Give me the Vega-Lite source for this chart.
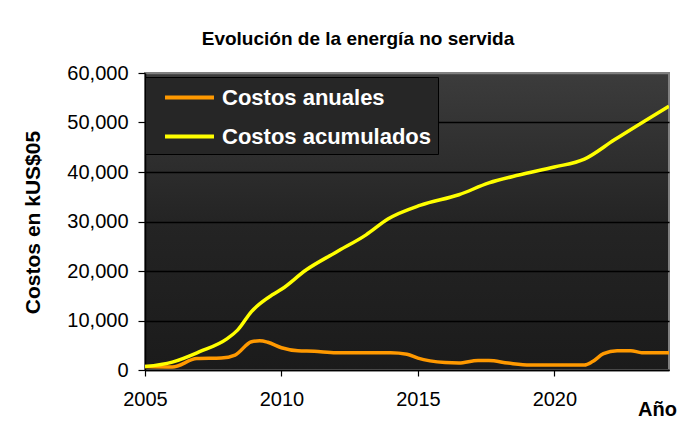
{
  "$schema": "https://vega.github.io/schema/vega-lite/v6.json",
  "width": 524,
  "height": 297,
  "autosize": {"type": "none"},
  "padding": {"left": 145, "top": 73, "right": 28, "bottom": 73},
  "background": "white",
  "title": {
    "text": "Evolución de la energía no servida",
    "font": "Liberation Sans",
    "fontSize": 19,
    "fontWeight": "bold",
    "color": "#000000",
    "anchor": "middle",
    "dx": -49,
    "baseline": "alphabetic",
    "offset": -1
  },
  "config": {
    "font": "Liberation Sans",
    "view": {
      "stroke": "#808080",
      "strokeWidth": 2,
      "fill": {
        "gradient": "linear",
        "x1": 0, "y1": 0, "x2": 0, "y2": 1,
        "stops": [
          {"offset": 0, "color": "#3c3c3c"},
          {"offset": 0.5, "color": "#242424"},
          {"offset": 1, "color": "#1b1b1b"}
        ]
      }
    },
    "axis": {
      "labelFont": "Liberation Sans",
      "titleFont": "Liberation Sans",
      "labelColor": "#000000",
      "titleColor": "#000000",
      "domainColor": "#000000",
      "domainWidth": 1.5,
      "tickColor": "#000000",
      "tickWidth": 1.2
    }
  },
  "data": {
    "values": [
      {"Año": 2005.0, "Costo": 700, "Serie": "Costos anuales"},
      {"Año": 2006.0, "Costo": 600, "Serie": "Costos anuales"},
      {"Año": 2006.9, "Costo": 2300, "Serie": "Costos anuales"},
      {"Año": 2007.8, "Costo": 2400, "Serie": "Costos anuales"},
      {"Año": 2008.3, "Costo": 3000, "Serie": "Costos anuales"},
      {"Año": 2008.9, "Costo": 5700, "Serie": "Costos anuales"},
      {"Año": 2009.2, "Costo": 5900, "Serie": "Costos anuales"},
      {"Año": 2009.5, "Costo": 5600, "Serie": "Costos anuales"},
      {"Año": 2010.0, "Costo": 4500, "Serie": "Costos anuales"},
      {"Año": 2010.6, "Costo": 3900, "Serie": "Costos anuales"},
      {"Año": 2011.2, "Costo": 3800, "Serie": "Costos anuales"},
      {"Año": 2012.0, "Costo": 3500, "Serie": "Costos anuales"},
      {"Año": 2013.0, "Costo": 3500, "Serie": "Costos anuales"},
      {"Año": 2014.0, "Costo": 3500, "Serie": "Costos anuales"},
      {"Año": 2014.6, "Costo": 3200, "Serie": "Costos anuales"},
      {"Año": 2015.0, "Costo": 2400, "Serie": "Costos anuales"},
      {"Año": 2016.0, "Costo": 1500, "Serie": "Costos anuales"},
      {"Año": 2016.5, "Costo": 1400, "Serie": "Costos anuales"},
      {"Año": 2017.2, "Costo": 1900, "Serie": "Costos anuales"},
      {"Año": 2017.6, "Costo": 1900, "Serie": "Costos anuales"},
      {"Año": 2018.3, "Costo": 1400, "Serie": "Costos anuales"},
      {"Año": 2019.1, "Costo": 1000, "Serie": "Costos anuales"},
      {"Año": 2020.0, "Costo": 1000, "Serie": "Costos anuales"},
      {"Año": 2021.1, "Costo": 1000, "Serie": "Costos anuales"},
      {"Año": 2021.4, "Costo": 1700, "Serie": "Costos anuales"},
      {"Año": 2021.8, "Costo": 3300, "Serie": "Costos anuales"},
      {"Año": 2022.3, "Costo": 3900, "Serie": "Costos anuales"},
      {"Año": 2022.8, "Costo": 3900, "Serie": "Costos anuales"},
      {"Año": 2023.2, "Costo": 3500, "Serie": "Costos anuales"},
      {"Año": 2024.2, "Costo": 3500, "Serie": "Costos anuales"},
      {"Año": 2005.0, "Costo": 700, "Serie": "Costos acumulados"},
      {"Año": 2006.0, "Costo": 1600, "Serie": "Costos acumulados"},
      {"Año": 2007.0, "Costo": 3700, "Serie": "Costos acumulados"},
      {"Año": 2008.0, "Costo": 6300, "Serie": "Costos acumulados"},
      {"Año": 2008.4, "Costo": 8100, "Serie": "Costos acumulados"},
      {"Año": 2008.9, "Costo": 11800, "Serie": "Costos acumulados"},
      {"Año": 2009.7, "Costo": 15300, "Serie": "Costos acumulados"},
      {"Año": 2010.0, "Costo": 16300, "Serie": "Costos acumulados"},
      {"Año": 2010.9, "Costo": 20200, "Serie": "Costos acumulados"},
      {"Año": 2012.0, "Costo": 23800, "Serie": "Costos acumulados"},
      {"Año": 2013.1, "Costo": 27300, "Serie": "Costos acumulados"},
      {"Año": 2013.9, "Costo": 30500, "Serie": "Costos acumulados"},
      {"Año": 2015.1, "Costo": 33300, "Serie": "Costos acumulados"},
      {"Año": 2016.5, "Costo": 35400, "Serie": "Costos acumulados"},
      {"Año": 2017.6, "Costo": 37800, "Serie": "Costos acumulados"},
      {"Año": 2018.7, "Costo": 39400, "Serie": "Costos acumulados"},
      {"Año": 2020.0, "Costo": 41000, "Serie": "Costos acumulados"},
      {"Año": 2021.1, "Costo": 42600, "Serie": "Costos acumulados"},
      {"Año": 2022.2, "Costo": 46500, "Serie": "Costos acumulados"},
      {"Año": 2024.2, "Costo": 53300, "Serie": "Costos acumulados"}
    ]
  },
  "mark": {"type": "line", "strokeWidth": 3.5, "interpolate": "monotone", "clip": true},
  "encoding": {
    "x": {
      "field": "Año",
      "type": "quantitative",
      "scale": {"domain": [2005, 2024.2], "nice": false, "zero": false},
      "axis": {
        "title": "Año",
        "values": [2005, 2010, 2015, 2020],
        "format": "d",
        "grid": false,
        "tickSize": 6,
        "labelFontSize": 20,
        "labelPadding": 13,
        "labelFlush": false,
        "titleFontSize": 20,
        "titleFontWeight": "bold",
        "titleX": 512,
        "titleY": 45,
        "titleAlign": "center",
        "titleBaseline": "alphabetic"
      }
    },
    "y": {
      "field": "Costo",
      "type": "quantitative",
      "scale": {"domain": [0, 60000], "nice": false},
      "axis": {
        "title": "Costos en kUS$05",
        "values": [0, 10000, 20000, 30000, 40000, 50000, 60000],
        "format": ",.0f",
        "grid": true,
        "gridColor": {"condition": {"test": "datum.value >= 60000", "value": "#808080"}, "value": "#000000"},
        "gridWidth": 1.5,
        "tickSize": 7,
        "labelFontSize": 20,
        "labelPadding": 10,
        "titleFontSize": 21,
        "titleFontWeight": "bold",
        "titleAngle": -90,
        "titleX": -112,
        "titleY": 149,
        "titleAlign": "center",
        "titleBaseline": "middle"
      }
    },
    "color": {
      "field": "Serie",
      "type": "nominal",
      "sort": ["Costos anuales", "Costos acumulados"],
      "scale": {"domain": ["Costos anuales", "Costos acumulados"], "range": ["#FF9900", "#FFFF00"]},
      "legend": {
        "title": null,
        "orient": "none",
        "legendX": 0,
        "legendY": 4,
        "fillColor": "#262626",
        "strokeColor": "#000000",
        "padding": 6,
        "symbolOffset": 24,
        "symbolType": "M-2,0H2",
        "symbolSize": 600,
        "symbolStrokeWidth": 4,
        "labelFont": "Liberation Sans",
        "labelFontSize": 22,
        "labelFontWeight": "bold",
        "labelColor": "#FFFFFF",
        "labelOffset": 18,
        "rowPadding": 13,
        "labelLimit": 400
      }
    }
  }
}
